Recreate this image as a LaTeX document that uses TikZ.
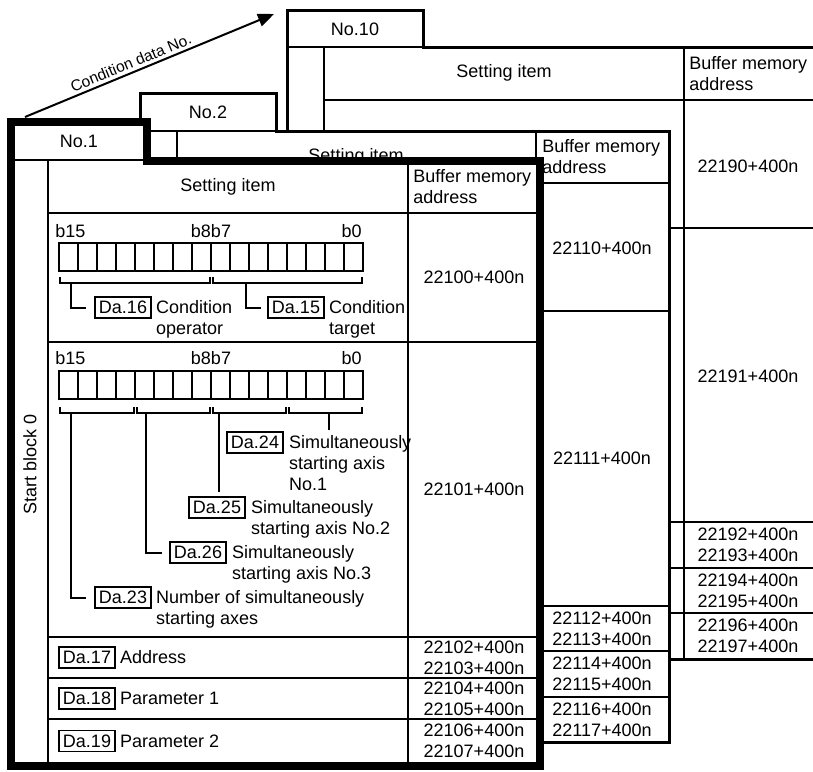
\documentclass[tikz,border=0pt]{standalone}
\usepackage{fontspec}
\setmainfont{Liberation Sans}
\usetikzlibrary{arrows.meta}
\newcommand{\dalines}[1]{\begin{tabular}[t]{@{}l@{}}#1\end{tabular}}
\tikzset{sheet/.style={draw,fill=white,line width=1.5pt},front/.style={draw,fill=white,line width=4pt},rule/.style={line width=1pt},dabox/.style={draw,line width=0.8pt,minimum width=28pt,minimum height=10.5pt,inner sep=0pt},lbl/.style={inner sep=0pt,align=left},num/.style={inner sep=0pt,align=center},arr/.style={-{Triangle[length=8pt,width=6.5pt]},line width=1pt}}

\begin{document}
\begin{tikzpicture}[x=0.5pt,y=-0.5pt,font=\fontsize{9}{10.5}\selectfont]
\clip(0,0)rectangle(813,771);
% sheet No.10
\draw[sheet](287,10)--(423,10)--(423,47)--(820,47)--(820,659)--(287,659)--cycle;
\draw[rule](287,47)--(423,47)(324,47)--(324,659)(684,47)--(684,659)(324,100)--(820,100);
\foreach\y in{228,522,568,613}\draw[rule](324,\y)--(820,\y);
\node(n10)at(355,29){No.10};
\node(s10)at(504,73){Setting item};
\node[lbl,anchor=west](a10)at(689,73.5){Buffer memory\\address};
\foreach\n/\y/\t in{v190/166/22190+400n,v191/376/22191+400n,v192/545/22192+400n\\22193+400n,v194/590.5/22194+400n\\22195+400n,v196/636/22196+400n\\22197+400n}\node[num](\n)at(748,\y){\t};
% sheet No.2
\draw[sheet](140,93)--(276,93)--(276,131)--(669,131)--(669,742)--(140,742)--cycle;
\draw[rule](140,131)--(276,131)(177,131)--(177,742)(536,131)--(536,742)(177,183)--(669,183);
\foreach\y in{311,606,651,697}\draw[rule](177,\y)--(669,\y);
\node(n2)at(208,112){No.2};
\node(s2)at(356,157){Setting item};
\node[lbl,anchor=west](a2)at(542,157){Buffer memory\\address};
\foreach\n/\y/\t in{v110/248/22110+400n,v111/458/22111+400n,v112/628.5/22112+400n\\22113+400n,v114/674/22114+400n\\22115+400n,v116/719.5/22116+400n\\22117+400n}\node[num](\n)at(602,\y){\t};
% sheet No.1
\draw[front](11,122)--(147,122)--(147,161)--(540,161)--(540,766)--(11,766)--cycle;
\draw[rule](11,160)--(147,160)(48,160)--(48,766)(408,161)--(408,766)(48,213)--(540,213);
\foreach\y in{342,637,678,719}\draw[rule](48,\y)--(540,\y);
\node(n1)at(79,141){No.1};
\node(s1)at(228,187){Setting item};
\node[lbl,anchor=west](a1)at(413,187){Buffer memory\\address};
\node[rotate=90](blk)at(30,464){Start block 0};
\foreach\n/\y/\t in{v100/277/22100+400n,v101/489.5/22101+400n,v102/657.5/22102+400n\\22103+400n,v104/698.5/22104+400n\\22105+400n,v106/741/22106+400n\\22107+400n}\node[num](\n)at(474,\y){\t};
% registers
\foreach\r in{243,371}{\foreach\i in{0,...,15}\draw[line width=0.8pt](59+19*\i,\r)rectangle++(19,28);
\draw[rule](59,\r)rectangle(363,\r+28);}
\foreach\y/\k in{231/a,358/b}{\node[lbl,anchor=west](hi\k)at(55,\y){b15};\node[lbl](mid\k)at(211,\y){b8b7};\node[lbl,anchor=east](lo\k)at(362,\y){b0};}
\foreach\a/\b in{60/210,213/362}\draw[rule](\a,277)|-(\b,283)--(\b,277);
\foreach\a/\b in{60/134,137/210,213/286,289/362}\draw[rule](\a,407)|-(\b,413)--(\b,407);
% Da items
\node[dabox](d16)at(123,307.5){Da.16};
\node[lbl,anchor=base west](t16)at([xshift=2pt]d16.base east){\dalines{Condition\\operator}};
\node[dabox](d15)at(296,307.5){Da.15};
\node[lbl,anchor=base west](t15)at([xshift=2pt]d15.base east){\dalines{Condition\\target}};
\node[dabox](d24)at(255,442.5){Da.24};
\node[lbl,anchor=base west](t24)at([xshift=2.5pt]d24.base east){\dalines{Simultaneously\\starting axis\\No.1}};
\node[dabox](d25)at(217,507.5){Da.25};
\node[lbl,anchor=base west](t25)at([xshift=2.5pt]d25.base east){\dalines{Simultaneously\\starting axis No.2}};
\node[dabox](d26)at(198,552.5){Da.26};
\node[lbl,anchor=base west](t26)at([xshift=2.5pt]d26.base east){\dalines{Simultaneously\\starting axis No.3}};
\node[dabox](d23)at(123,597.5){Da.23};
\node[lbl,anchor=base west](t23)at([xshift=2pt]d23.base east){\dalines{Number of simultaneously\\starting axes}};
\node[dabox](d17)at(87,657.5){Da.17};
\node[lbl,anchor=base west](t17)at([xshift=2pt]d17.base east){Address};
\node[dabox](d18)at(87,698.5){Da.18};
\node[lbl,anchor=base west](t18)at([xshift=2pt]d18.base east){Parameter 1};
\node[dabox](d19)at(87,741){Da.19};
\node[lbl,anchor=base west](t19)at([xshift=2pt]d19.base east){Parameter 2};
\coordinate(b16)at(71,283);\coordinate(b15)at(246,283);
\coordinate(b23)at(71,413);\coordinate(b26)at(146,413);\coordinate(b25)at(219,413);\coordinate(b24)at(329,413);
\draw[rule](b16)|-([xshift=-4pt]d16.west);
\draw[rule](b15)|-([xshift=-3pt]d15.west);
\draw[rule](b24)--([yshift=2pt]t24.north-|b24);
\draw[rule](b25)--([yshift=2pt]d25.north-|b25);
\draw[rule](b26)|-([xshift=-3.5pt]d26.west);
\draw[rule](b23)|-([xshift=-4pt]d23.west);
% condition data No. arrow
\coordinate(cs)at(25,117);\coordinate(ce)at(274,14);
\draw[arr](cs)--(ce)node[pos=0.44,above,sloped,inner sep=1.5pt,font=\fontsize{7.8}{9}\selectfont](cdn){Condition data No.};
\end{tikzpicture}
\end{document}
